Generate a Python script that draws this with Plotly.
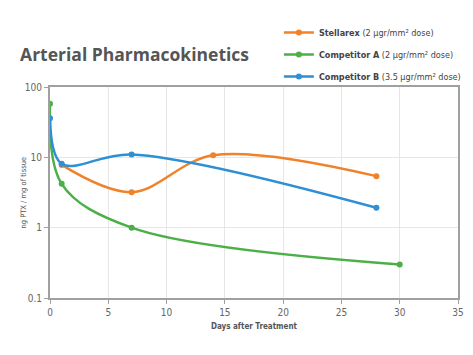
import plotly.graph_objects as go

stellarex_x = [1, 7, 14, 28]
stellarex_y = [7.8, 3.2, 10.7, 5.4]
compA_x = [0, 1, 7, 30]
compA_y = [58, 4.2, 1.0, 0.3]
compB_x = [0, 1, 7, 28]
compB_y = [36, 8.1, 11.0, 1.92]

names = ["<b>Stellarex</b> (2 μgr/mm² dose)",
         "<b>Competitor A</b> (2 μgr/mm² dose)",
         "<b>Competitor B</b> (3.5 μgr/mm² dose)"]
colors = ["#F0822A", "#4CAF47", "#2E8FD4"]
xs = [stellarex_x, compA_x, compB_x]
ys = [stellarex_y, compA_y, compB_y]

x_ticks = [0, 5, 10, 15, 20, 25, 30, 35]
y_ticks = [0.1, 1, 10, 100]
y_ticklabels = ["0.1", "1", "10", "100"]

FONT = "DejaVu Sans Condensed, Liberation Sans Narrow, sans-serif"

fig = go.Figure()
for i in range(3):
    fig.add_trace(go.Scatter(
        x=xs[i], y=ys[i], name=names[i], mode="lines+markers",
        line=dict(color=colors[i], width=2.5, shape="spline", smoothing=1.0),
        marker=dict(color=colors[i], size=6),
        legendgroup=str(i),
    ))

fig.update_layout(
    width=465, height=347,
    margin=dict(l=42, r=15, t=79, b=57, autoexpand=False),
    paper_bgcolor="white", plot_bgcolor="white",
    font=dict(family=FONT, color="#666666", size=10),
    title=dict(text="<b>Arterial Pharmacokinetics</b>", x=0.026, xanchor="left",
               y=0.8646, yanchor="middle",
               font=dict(family="Open Sans, sans-serif", size=17.5, color="#555555")),
    legend=dict(x=0.561, y=1.327, xanchor="left", yanchor="top",
                font=dict(family=FONT, size=9, color="#444444"),
                tracegroupgap=3, bgcolor="rgba(0,0,0,0)"),
    showlegend=True,
    annotations=[dict(text="ng PTX / mg of tissue", xref="paper", yref="paper",
                      x=-0.066, y=0.5, xanchor="center", yanchor="middle",
                      textangle=-90, showarrow=False,
                      font=dict(family=FONT, size=7.5, color="#555555"))],
)
fig.update_xaxes(range=[0, 35], tickvals=x_ticks, showgrid=True, gridcolor="#e6e6e6",
                 gridwidth=1, showline=True, linecolor="#a0a0a0", linewidth=2, mirror=True,
                 ticks="outside", ticklen=4, tickcolor="#a0a0a0", zeroline=False,
                 automargin=False,
                 tickfont=dict(size=10, color="#666666"),
                 title=dict(text="<b>Days after Treatment</b>", standoff=6,
                            font=dict(size=8, color="#555555")))
fig.update_yaxes(type="log", range=[-1, 2], tickvals=y_ticks, ticktext=y_ticklabels,
                 showgrid=True, gridcolor="#e6e6e6", gridwidth=1, showline=True,
                 linecolor="#a0a0a0", linewidth=2, mirror=True, ticks="outside",
                 ticklen=4, tickcolor="#a0a0a0", zeroline=False,
                 automargin=False,
                 tickfont=dict(size=10, color="#666666"))

fig.write_html("out.html")
